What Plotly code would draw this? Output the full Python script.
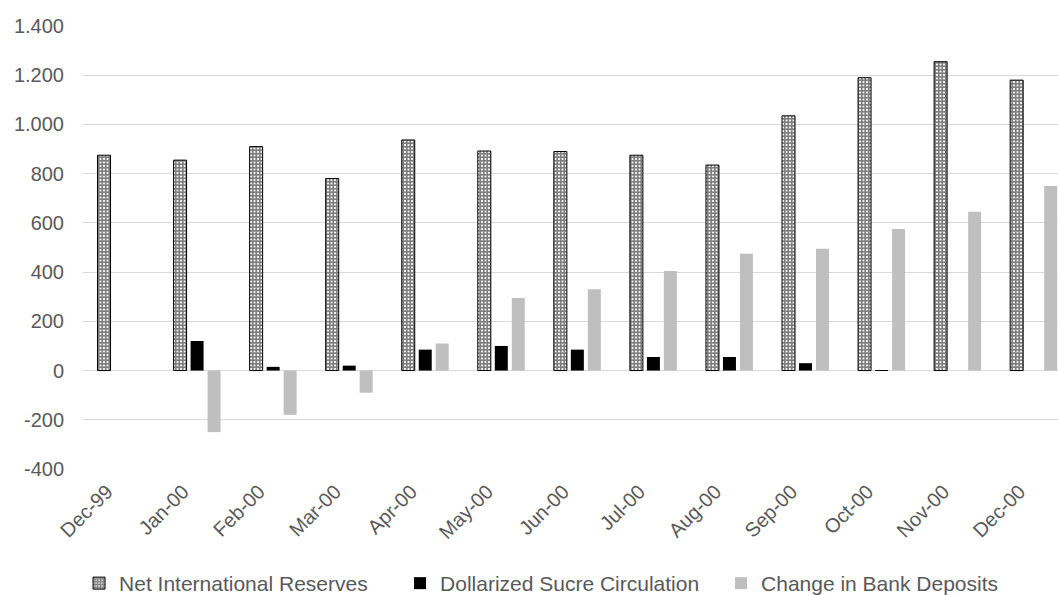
import plotly.graph_objects as go

months = ["Dec-99", "Jan-00", "Feb-00", "Mar-00", "Apr-00", "May-00", "Jun-00",
          "Jul-00", "Aug-00", "Sep-00", "Oct-00", "Nov-00", "Dec-00"]
net_reserves = [875, 855, 910, 780, 937, 892, 890, 875, 835, 1035, 1190, 1255, 1180]
sucre_circulation = [0, 120, 15, 20, 85, 100, 85, 55, 55, 30, 2, 0, 0]
deposit_change = [0, -250, -180, -90, 110, 295, 330, 405, 475, 495, 575, 645, 750]

y_ticks = [-400, -200, 0, 200, 400, 600, 800, 1000, 1200, 1400]
y_tick_text = ["-400", "-200", "0", "200", "400", "600", "800", "1.000", "1.200", "1.400"]

FONT = "Liberation Sans, Arial, sans-serif"
TXT = "#595959"
GRID = "#d9d9d9"

idx = list(range(len(months)))
bw = 0.171
step = 0.2235

fig = go.Figure()
fig.add_trace(go.Bar(
    x=idx, y=net_reserves, name="Net International Reserves",
    width=bw, offset=-step - bw / 2,
    marker=dict(color="white", line=dict(color="black", width=1),
                pattern=dict(shape="+", fgcolor="black", bgcolor="white",
                             size=3.5, solidity=0.75, fillmode="overlay")),
))
fig.add_trace(go.Bar(
    x=idx, y=sucre_circulation, name="Dollarized Sucre Circulation",
    width=bw, offset=-bw / 2,
    marker=dict(color="black", line=dict(width=0)),
))
fig.add_trace(go.Bar(
    x=idx, y=deposit_change, name="Change in Bank Deposits",
    width=bw, offset=step - bw / 2,
    marker=dict(color="#bfbfbf", line=dict(width=0)),
))

fig.update_layout(
    width=1058, height=595,
    margin=dict(l=83, r=0, t=26, b=126, autoexpand=False),
    plot_bgcolor="white", paper_bgcolor="white",
    barmode="overlay",
    font=dict(family=FONT, size=20, color=TXT),
    showlegend=True,
    legend=dict(orientation="h", xref="container", yref="container",
                x=0.0747, y=0.0538, xanchor="left", yanchor="top",
                font=dict(size=21, color=TXT), entrywidth=276,
                bgcolor="rgba(0,0,0,0)"),
)
fig.update_xaxes(
    tickmode="array", tickvals=idx, ticktext=months, tickangle=-45,
    range=[-0.5, 12.32], showgrid=False, showline=False, zeroline=False,
    ticks="", ticklabelshift=-14, ticklabelstandoff=6,
    tickfont=dict(size=20, color=TXT, family=FONT),
)
fig.update_yaxes(
    range=[-400, 1400], tickmode="array", tickvals=y_ticks, ticktext=y_tick_text,
    showgrid=True, gridcolor=GRID, gridwidth=1.3,
    zeroline=True, zerolinecolor=GRID, zerolinewidth=1.3,
    showline=False, ticks="", ticklen=0, ticklabelstandoff=18,
    tickfont=dict(size=20, color=TXT, family=FONT),
)

fig.write_html("out.html")
